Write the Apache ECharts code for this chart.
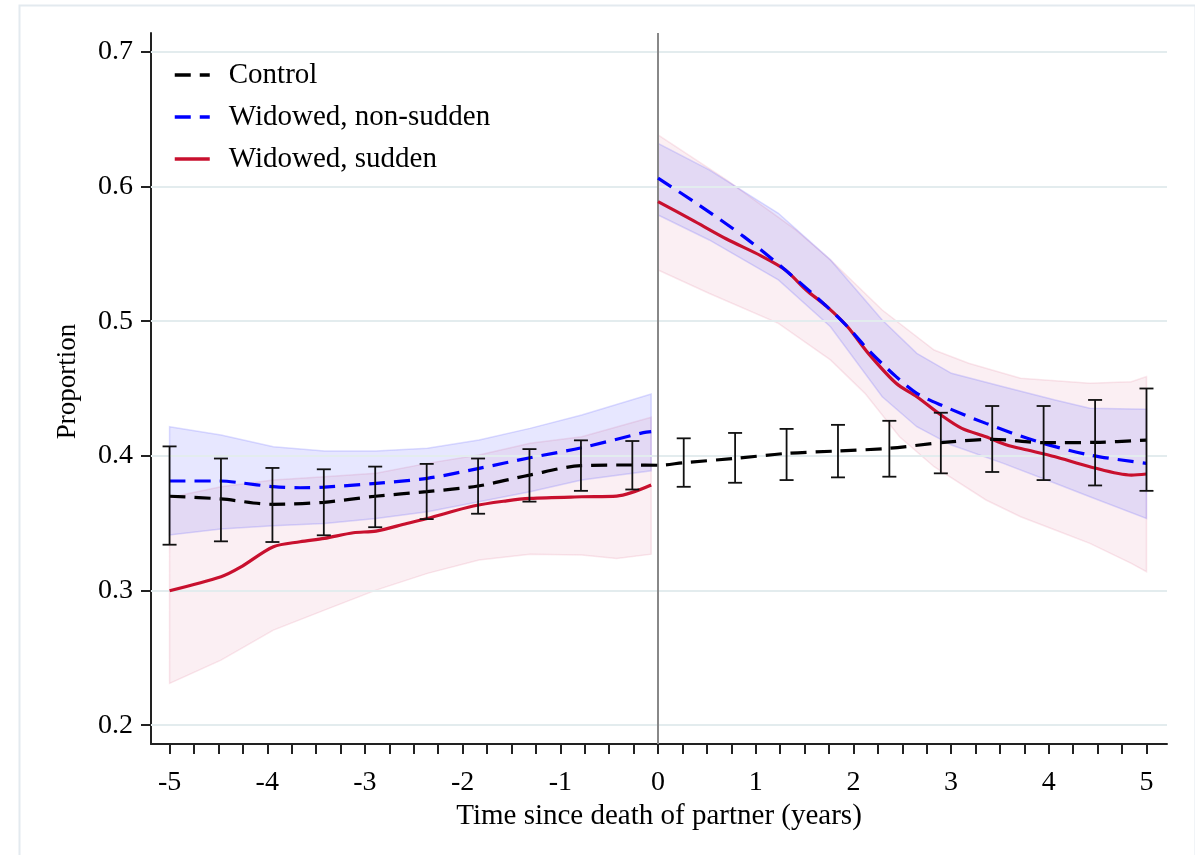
<!DOCTYPE html>
<html><head><meta charset="utf-8">
<script src="https://cdn.jsdelivr.net/npm/echarts@6/dist/echarts.min.js"></script>
<style>html,body{margin:0;padding:0;background:#fff}#c{width:1195px;height:855px}</style>
</head><body><div id="c"></div>
<script>
// ---------- data ----------
const seriesNames = ['Control', 'Widowed, non-sudden', 'Widowed, sudden'];
const yTicks = [0.2, 0.3, 0.4, 0.5, 0.6, 0.7];
const xLabels = [-5, -4, -3, -2, -1, 0, 1, 2, 3, 4, 5];
const xMinorTicks = [-5, -4.75, -4.5, -4.25, -4, -3.75, -3.5, -3.25, -3, -2.75, -2.5, -2.25, -2, -1.75, -1.5, -1.25, -1, -0.75, -0.5, -0.25,
  0, 0.25, 0.5, 0.75, 1, 1.25, 1.5, 1.75, 2, 2.25, 2.5, 2.75, 3, 3.25, 3.5, 3.75, 4, 4.25, 4.5, 4.75, 5];

// Control: mean line and error bars
const controlLine = [[-5, 0.370], [-4.474, 0.368], [-3.947, 0.364], [-3.421, 0.3655], [-2.895, 0.370], [-2.368, 0.3734],
  [-1.842, 0.3776], [-1.316, 0.3857], [-0.789, 0.3927], [-0.263, 0.3932], [0, 0.393], [0.263, 0.3949], [0.789, 0.3981],
  [1.316, 0.4018], [1.842, 0.4036], [2.368, 0.4056], [2.895, 0.4098], [3.421, 0.4123], [3.947, 0.4098], [4.474, 0.410], [5, 0.4117]];
const controlBarX = [-5, -4.474, -3.947, -3.421, -2.895, -2.368, -1.842, -1.316, -0.789, -0.263,
  0.263, 0.789, 1.316, 1.842, 2.368, 2.895, 3.421, 3.947, 4.474, 5];
const controlBarLow = [0.334, 0.3365, 0.336, 0.341, 0.347, 0.353, 0.357, 0.366, 0.374, 0.375,
  0.377, 0.380, 0.382, 0.384, 0.3845, 0.387, 0.388, 0.382, 0.378, 0.374];
const controlBarHigh = [0.407, 0.398, 0.391, 0.390, 0.392, 0.394, 0.398, 0.405, 0.4115, 0.411,
  0.413, 0.417, 0.420, 0.423, 0.426, 0.432, 0.437, 0.437, 0.4415, 0.450];

// Widowed, non-sudden
const nonSuddenBefore = [[-5, 0.3813], [-4.473, 0.3813], [-4.278, 0.380], [-3.937, 0.3771], [-3.664, 0.3763], [-3.415, 0.3768],
  [-2.886, 0.3796], [-2.361, 0.3833], [-1.832, 0.3907], [-1.310, 0.3986], [-0.781, 0.406], [-0.15, 0.4172], [-0.07, 0.418]];
const nonSuddenAfter = [[0, 0.6062], [0.418, 0.5863], [0.878, 0.5628], [1.303, 0.538], [1.729, 0.5108], [1.94, 0.4959],
  [2.153, 0.4786], [2.437, 0.4588], [2.649, 0.4464], [2.897, 0.4377], [3.357, 0.4241], [3.888, 0.4105], [4.42, 0.4006], [5, 0.3944]];
const nonSuddenBandBeforeUpper = [[-5, 0.4216], [-4.473, 0.4154], [-3.937, 0.4068], [-3.415, 0.4036], [-2.886, 0.4036], [-2.361, 0.4056],
  [-1.832, 0.4117], [-1.310, 0.4204], [-0.781, 0.4303], [-0.07, 0.4459]];
const nonSuddenBandBeforeLower = [[-5, 0.3412], [-4.473, 0.3456], [-3.937, 0.3481], [-3.415, 0.3498], [-2.886, 0.3535], [-2.361, 0.3585],
  [-1.832, 0.3659], [-1.310, 0.3734], [-0.781, 0.382], [-0.07, 0.3889]];
const nonSuddenBandAfterUpper = [[0, 0.632], [0.524, 0.6123], [1.232, 0.5801], [1.765, 0.5455], [2.295, 0.5009], [2.649, 0.4761],
  [3.003, 0.4613], [3.534, 0.4513], [4.065, 0.4415], [4.42, 0.4353], [5, 0.4346]];
const nonSuddenBandAfterLower = [[0, 0.5789], [0.524, 0.5603], [1.232, 0.5306], [1.765, 0.4959], [2.295, 0.4439], [2.649, 0.4216],
  [3.003, 0.408], [3.534, 0.3944], [4.065, 0.3796], [4.42, 0.3696], [5, 0.3535]];

// Widowed, sudden
const suddenBefore = [[-5, 0.2998], [-4.473, 0.3102], [-4.278, 0.3171], [-3.937, 0.3325], [-3.664, 0.3362], [-3.415, 0.3387],
  [-3.118, 0.3429], [-2.886, 0.3441], [-2.572, 0.3498], [-2.361, 0.3535], [-1.890, 0.3627], [-1.549, 0.3666], [-1.310, 0.3684],
  [-0.781, 0.3696], [-0.423, 0.3701], [-0.07, 0.3783]];
const suddenAfter = [[0, 0.5888], [0.347, 0.5752], [0.701, 0.5610], [1.055, 0.5485], [1.303, 0.538], [1.516, 0.5232], [1.729, 0.5108],
  [1.94, 0.4959], [2.153, 0.4761], [2.437, 0.4539], [2.649, 0.4439], [2.897, 0.4303], [3.11, 0.4204], [3.357, 0.4142], [3.57, 0.408],
  [3.782, 0.4043], [4.065, 0.3993], [4.42, 0.3919], [4.845, 0.3857], [5, 0.3865]];
const suddenBandBeforeUpper = [[-5, 0.369], [-4.473, 0.377], [-3.937, 0.382], [-3.415, 0.3845], [-2.886, 0.387], [-2.361, 0.3944],
  [-1.832, 0.4006], [-1.310, 0.4093], [-0.781, 0.4142], [-0.07, 0.4286]];
const suddenBandBeforeLower = [[-5, 0.231], [-4.473, 0.2483], [-3.937, 0.2706], [-3.415, 0.2854], [-2.886, 0.3003], [-2.361, 0.3127],
  [-1.832, 0.3226], [-1.310, 0.327], [-0.781, 0.3263], [-0.423, 0.3238], [-0.07, 0.327]];
const suddenBandAfterUpper = [[0, 0.6383], [0.701, 0.6049], [1.41, 0.5678], [1.765, 0.5455], [2.295, 0.5083], [2.826, 0.4786],
  [3.18, 0.4687], [3.711, 0.4576], [4.42, 0.4539], [4.845, 0.4551], [5, 0.4588]];
const suddenBandAfterLower = [[0, 0.538], [0.52, 0.5207], [1.232, 0.4984], [1.765, 0.4712], [2.118, 0.4464], [2.472, 0.4142],
  [2.826, 0.3919], [3.357, 0.3672], [3.711, 0.3548], [4.065, 0.3449], [4.42, 0.335], [4.845, 0.3201], [5, 0.3139]];

// ---------- chart ----------
const FONT = 'Liberation Serif';
const chart = echarts.init(document.getElementById('c'), null, { renderer: 'canvas' });

function joinSegments(a, b) {
  return a.concat([[0, '-']], b);
}
function bandSeries(id, upper, lower, fill, stroke, z, extra) {
  const pts = upper.concat(lower.slice().reverse());
  return Object.assign({
    type: 'custom', name: id, coordinateSystem: 'cartesian2d', silent: true, z: z,
    data: pts, encode: { x: 0, y: 1 },
    renderItem: function (params, api) {
      if (params.dataIndex !== 0) return null;
      const poly = pts.map(p => api.coord(p));
      return { type: 'polygon', shape: { points: poly }, style: { fill: fill, stroke: stroke, lineWidth: 1.5 } };
    }
  }, extra || {});
}

const gridLineData = yTicks.map(v => ({ yAxis: v, lineStyle: { color: '#e3ecee', width: 2, type: 'solid' } }));
gridLineData.push({ xAxis: 0, lineStyle: { color: '#888888', width: 2, type: 'solid' } });

const option = {
  animation: false,
  backgroundColor: '#ffffff',
  graphic: [{
    type: 'rect', left: 17, top: 3, silent: true, z: -10,
    shape: { width: 1176, height: 900 },
    style: { fill: 'none', stroke: '#e3eaef', lineWidth: 2 }
  }],
  grid: { left: 151, right: 28, top: 33, bottom: 111 },
  legend: {
    data: seriesNames, orient: 'vertical', left: 173, top: 60, padding: 0,
    itemWidth: 35, itemHeight: 14, itemGap: 12,
    itemStyle: { opacity: 0 },
    lineStyle: { width: 3.5 },
    textStyle: { fontFamily: FONT, fontSize: 29, color: '#000', lineHeight: 30, padding: [0, 0, 0, 14] }
  },
  xAxis: {
    type: 'value', min: -5.19, max: 5.21,
    axisLine: { show: true, onZero: false, lineStyle: { color: '#222', width: 2 } },
    axisTick: { show: true, customValues: xMinorTicks, length: 10, lineStyle: { color: '#222', width: 2 } },
    axisLabel: { customValues: xLabels, margin: 25, fontFamily: FONT, fontSize: 28, color: '#000' },
    splitLine: { show: false },
    name: 'Time since death of partner (years)', nameLocation: 'middle', nameGap: 47,
    nameTextStyle: { fontFamily: FONT, fontSize: 29, color: '#000' }
  },
  yAxis: {
    type: 'value', min: 0.186, max: 0.714,
    axisLine: { show: true, onZero: false, lineStyle: { color: '#222', width: 2 } },
    axisTick: { show: true, customValues: yTicks, length: 10, lineStyle: { color: '#222', width: 2 } },
    axisLabel: { customValues: yTicks, margin: 18, fontFamily: FONT, fontSize: 28, color: '#000' },
    splitLine: { show: false },
    name: 'Proportion', nameLocation: 'middle', nameGap: 70,
    nameTextStyle: { fontFamily: FONT, fontSize: 27, color: '#000', padding: [0, 0, 0, 14] }
  },
  series: [
    {
      type: 'line', name: 'Widowed, sudden', data: joinSegments(suddenBefore, suddenAfter),
      smooth: 0.3, symbol: 'none', connectNulls: false, z: 5,
      lineStyle: { color: '#c8102e', width: 3.2, type: 'solid' }, itemStyle: { color: '#c8102e' }
    },
    {
      type: 'line', name: 'Widowed, non-sudden', data: joinSegments(nonSuddenBefore, nonSuddenAfter),
      smooth: 0.3, symbol: 'none', connectNulls: false, z: 6,
      lineStyle: { color: '#0000ff', width: 3.2, type: [16, 9] }, itemStyle: { color: '#0000ff' }
    },
    {
      type: 'line', name: 'Control', data: controlLine,
      smooth: 0.3, symbol: 'none', z: 7,
      lineStyle: { color: '#000000', width: 3.2, type: [16, 9] }, itemStyle: { color: '#000000' }
    },
    bandSeries('bandSuddenBefore', suddenBandBeforeUpper, suddenBandBeforeLower, 'rgba(205,30,80,0.07)', 'rgba(205,30,80,0.10)', 1, {
      markLine: { silent: true, symbol: ['none', 'none'], label: { show: false }, animation: false, data: gridLineData }
    }),
    bandSeries('bandSuddenAfter', suddenBandAfterUpper, suddenBandAfterLower, 'rgba(205,30,80,0.07)', 'rgba(205,30,80,0.10)', 1),
    bandSeries('bandNonSuddenBefore', nonSuddenBandBeforeUpper, nonSuddenBandBeforeLower, 'rgba(70,70,255,0.13)', 'rgba(70,70,255,0.18)', 2),
    bandSeries('bandNonSuddenAfter', nonSuddenBandAfterUpper, nonSuddenBandAfterLower, 'rgba(70,70,255,0.13)', 'rgba(70,70,255,0.18)', 2),
    {
      type: 'custom', name: 'controlCI', silent: true, z: 8,
      data: controlBarX.map((x, i) => [x, controlBarLow[i], controlBarHigh[i]]),
      encode: { x: 0, y: [1, 2] },
      renderItem: function (params, api) {
        const x = api.value(0);
        const lo = api.coord([x, api.value(1)]);
        const hi = api.coord([x, api.value(2)]);
        const w = 7;
        const st = { stroke: '#111', lineWidth: 1.8 };
        return {
          type: 'group', children: [
            { type: 'line', shape: { x1: lo[0], y1: lo[1], x2: hi[0], y2: hi[1] }, style: st },
            { type: 'line', shape: { x1: lo[0] - w, y1: lo[1], x2: lo[0] + w, y2: lo[1] }, style: st },
            { type: 'line', shape: { x1: hi[0] - w, y1: hi[1], x2: hi[0] + w, y2: hi[1] }, style: st }
          ]
        };
      }
    }
  ]
};
chart.setOption(option);
</script>
</body></html>
